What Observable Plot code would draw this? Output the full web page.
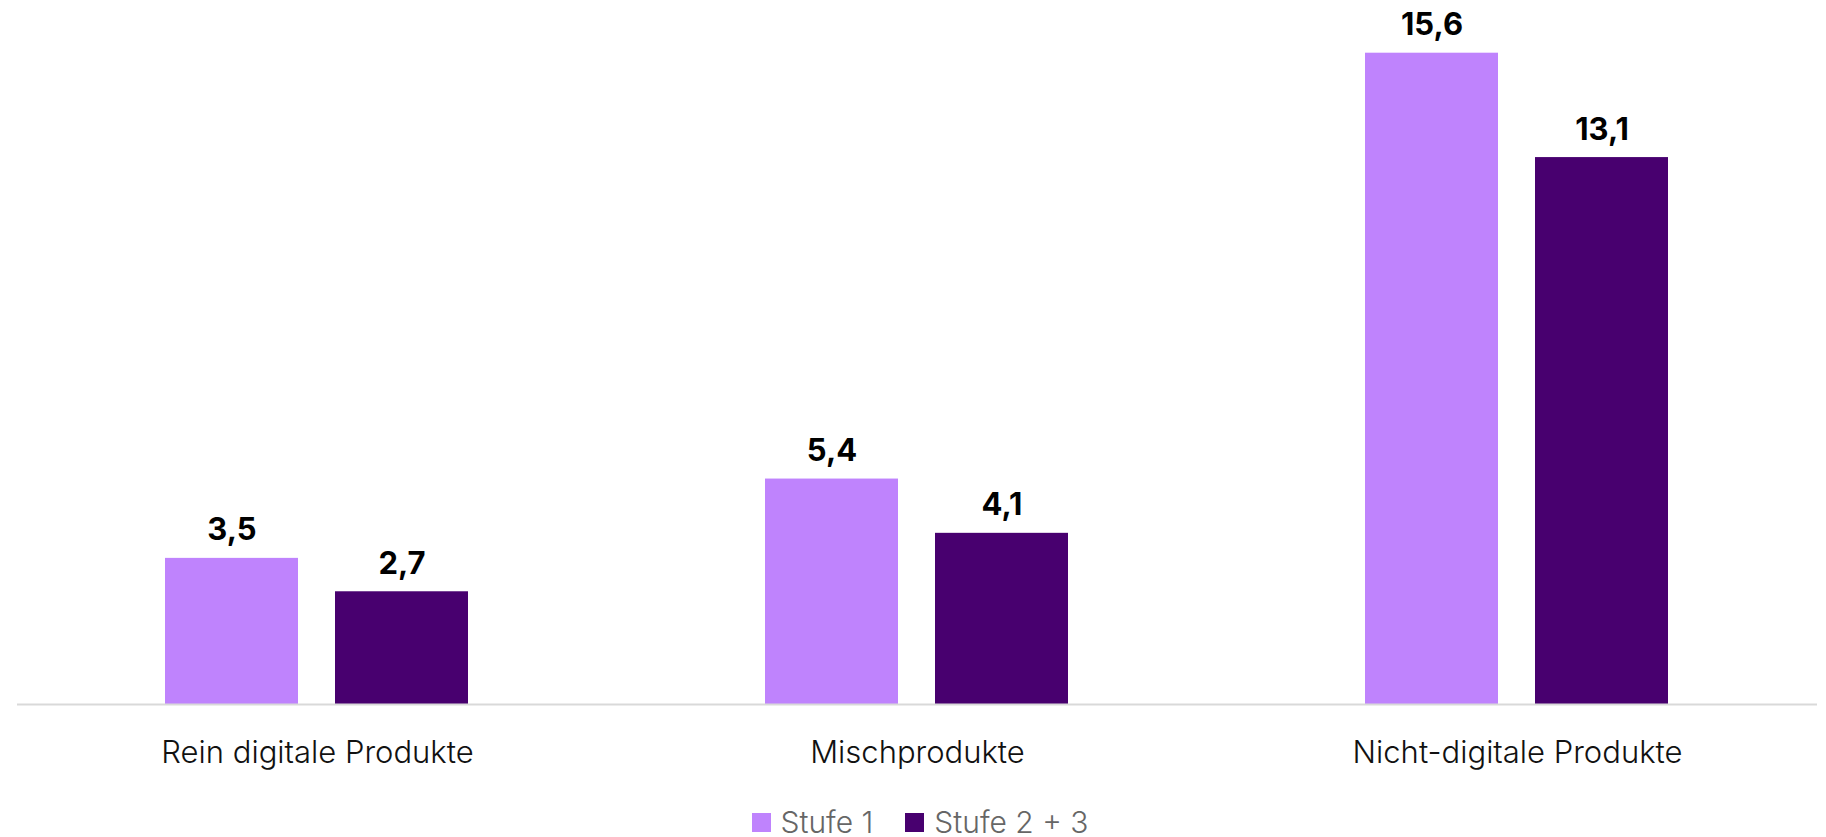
<!DOCTYPE html>
<html>
<head>
<meta charset="utf-8">
<script src="https://cdn.jsdelivr.net/npm/d3@7"></script>
<script src="https://cdn.jsdelivr.net/npm/@observablehq/plot@0.6"></script>
<style>
  html, body { margin: 0; padding: 0; background: #fff; }
  #chart { width: 1826px; }
  .legend { display: flex; justify-content: center; align-items: center; height: 30px; margin-top: 17px;
    font-family: Inter, sans-serif; font-weight: 300; font-size: 30px; color: #666; padding-left: 14px; }
  .legend .item { display: flex; align-items: center; margin: 0 16px; }
  .legend .sw { width: 19px; height: 19px; margin-right: 10px; }
</style>
</head>
<body>
<div id="chart"></div>
<script>
const categories = ["Rein digitale Produkte", "Mischprodukte", "Nicht-digitale Produkte"];
const series = ["Stufe 1", "Stufe 2 + 3"];
const stufe1 = [3.5, 5.4, 15.6];
const stufe23 = [2.7, 4.1, 13.1];
const colors = ["#bf83fd", "#48006f"];

const data = [];
categories.forEach((c, i) => {
  data.push({category: c, series: series[0], value: stufe1[i]});
  data.push({category: c, series: series[1], value: stufe23[i]});
});

const fmt = v => v.toFixed(1).replace(".", ",");

const chart = Plot.plot({
  width: 1826,
  height: 790,
  marginLeft: 16,
  marginRight: 9,
  marginTop: 36,
  marginBottom: 86,
  style: {fontFamily: "Inter, sans-serif", background: "#fff", color: "#000"},
  fx: {domain: categories, padding: 0, label: null},
  x: {domain: series, paddingInner: 0.216, paddingOuter: 0.865, axis: null},
  y: {domain: [0, 16], axis: null},
  color: {domain: series, range: colors},
  marks: [
    Plot.barY(data, {fx: "category", x: "series", y: "value", fill: "series"}),
    Plot.ruleY([0], {stroke: "#d9d9d9", strokeWidth: 2}),
    Plot.text(data, {fx: "category", x: "series", y: "value", text: d => fmt(d.value),
      dy: -18, lineAnchor: "bottom", fontSize: 31, fontWeight: 700, fill: "#000"}),
    Plot.axisFx({anchor: "bottom", tickSize: 0, tickPadding: 36, fontSize: 31, fontWeight: 300, label: null, fill: "#111"})
  ]
});
document.getElementById("chart").appendChild(chart);

const legend = document.createElement("div");
legend.className = "legend";
series.forEach((s, i) => {
  const item = document.createElement("div");
  item.className = "item";
  const sw = document.createElement("span");
  sw.className = "sw";
  sw.style.background = colors[i];
  const lb = document.createElement("span");
  lb.textContent = s;
  item.appendChild(sw);
  item.appendChild(lb);
  legend.appendChild(item);
});
document.getElementById("chart").appendChild(legend);
</script>
</body>
</html>
